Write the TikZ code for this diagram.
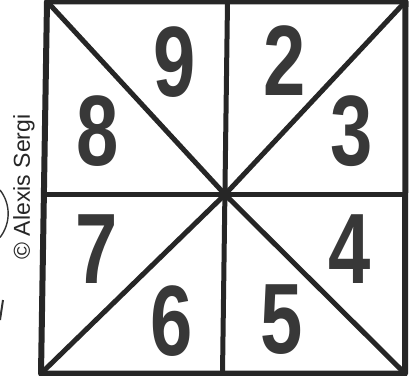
\documentclass[tikz,border=0pt]{standalone}
\usepackage{fontspec}
\newfontfamily\digitfont{Liberation Sans}
\newfontfamily\credfont{Liberation Sans}
\begin{document}
\begin{tikzpicture}[x=1pt,y=1pt,
  frame/.style={draw=black!85,line width=6pt,line cap=round,line join=round},
  divider/.style={draw=black!85,line width=5pt,line cap=round},
  digit/.style={inner sep=0pt,text=black!78,font=\digitfont\bfseries\fontsize{100}{100}\selectfont,xscale=0.76},
  credit/.style={inner sep=0pt,rotate=90,font=\credfont\fontsize{23}{23}\selectfont,text=black!85},
  faint/.style={draw=black!80,line width=1.4pt}]
\useasboundingbox (0,0) rectangle (409,375);
\fill[white] (0,0) rectangle (409,375);
% corners and midpoints
\coordinate (TL) at (47,373.5);
\coordinate (TR) at (405.5,373.5);
\coordinate (BR) at (405,1.5);
\coordinate (BL) at (41,1.5);
\coordinate (TM) at (227.5,373.5);
\coordinate (BM) at (222.5,1.5);
\coordinate (LM) at (44,180.5);
\coordinate (RM) at (405.3,180.5);
\coordinate (C) at (225,180.5);
% dividers
\draw[divider] (TM) -- (BM);
\draw[divider] (LM) -- (RM);
\draw[divider] (TL) -- (C) -- (BR);
\draw[divider] (TR) -- (C) -- (BL);
% frame
\draw[frame] (TL) -- (TR) -- (BR) -- (BL) -- cycle;
% digits
\node[digit] (n9) at (175,313) {9};
\node[digit] (n2) at (285,314) {2};
\node[digit] (n3) at (352,244) {3};
\node[digit] (n8) at (98,244) {8};
\node[digit] (n7) at (97,126) {7};
\node[digit] (n4) at (350,126) {4};
\node[digit] (n6) at (172,54) {6};
\node[digit] (n5) at (282,55) {5};
% credit
\node[credit] (cr) at (24,188) {© Alexis Sergi};
% fragments at left edge
\coordinate (arcA) at (0,185);
\draw[faint] (arcA) arc[start angle=38,end angle=-38,radius=38.5];
\coordinate (segA) at (0,55);
\coordinate (segB) at (3,75);
\draw[faint,line width=2pt] (segA) -- (segB);
\end{tikzpicture}
\end{document}
